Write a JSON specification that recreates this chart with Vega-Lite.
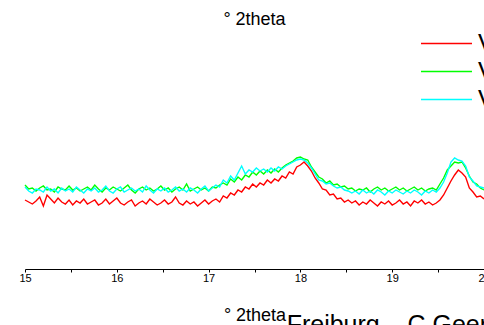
{
  "$schema": "https://vega.github.io/schema/vega-lite/v6.json",
  "autosize": {"type": "none"},
  "width": 459,
  "height": 239,
  "padding": {"left": 25, "top": 30, "right": 0, "bottom": 56},
  "background": "white",
  "config": {"view": {"stroke": null}, "font": "Liberation Sans"},
  "title": {"text": "° 2theta", "fontSize": 18, "fontWeight": "normal", "font": "Liberation Sans", "color": "black", "anchor": "middle", "offset": 1, "frame": "group"},
  "layer": [
    {
      "data": {"values": [
    {"x":15.00,"V1":69,"V2":84,"V3":82},{"x":15.04,"V1":67,"V2":80,"V3":78},{"x":15.08,"V1":65,"V2":81,"V3":76},{"x":15.12,"V1":68,"V2":78,"V3":80},{"x":15.16,"V1":72,"V2":81,"V3":79},
    {"x":15.20,"V1":63,"V2":83,"V3":77},{"x":15.24,"V1":74,"V2":79,"V3":82},{"x":15.28,"V1":70,"V2":80,"V3":78},{"x":15.32,"V1":66,"V2":77,"V3":80},{"x":15.36,"V1":71,"V2":82,"V3":76},
    {"x":15.40,"V1":67,"V2":80,"V3":81},{"x":15.44,"V1":65,"V2":79,"V3":78},{"x":15.48,"V1":69,"V2":83,"V3":80},{"x":15.52,"V1":64,"V2":79,"V3":77},{"x":15.56,"V1":68,"V2":81,"V3":82},
    {"x":15.60,"V1":66,"V2":78,"V3":79},{"x":15.64,"V1":70,"V2":80,"V3":76},{"x":15.68,"V1":65,"V2":82,"V3":80},{"x":15.72,"V1":67,"V2":79,"V3":78},{"x":15.76,"V1":69,"V2":84,"V3":81},
    {"x":15.80,"V1":64,"V2":80,"V3":77},{"x":15.84,"V1":66,"V2":77,"V3":79},{"x":15.88,"V1":70,"V2":81,"V3":83},{"x":15.92,"V1":65,"V2":79,"V3":78},{"x":15.96,"V1":68,"V2":82,"V3":76},
    {"x":16.00,"V1":71,"V2":80,"V3":80},{"x":16.04,"V1":66,"V2":78,"V3":82},{"x":16.08,"V1":64,"V2":81,"V3":77},{"x":16.12,"V1":67,"V2":84,"V3":79},{"x":16.16,"V1":69,"V2":79,"V3":81},
    {"x":16.20,"V1":63,"V2":76,"V3":78},{"x":16.24,"V1":66,"V2":80,"V3":80},{"x":16.28,"V1":68,"V2":82,"V3":77},{"x":16.32,"V1":65,"V2":79,"V3":83},{"x":16.36,"V1":70,"V2":81,"V3":79},
    {"x":16.40,"V1":67,"V2":78,"V3":76},{"x":16.44,"V1":64,"V2":80,"V3":80},{"x":16.48,"V1":66,"V2":83,"V3":78},{"x":16.52,"V1":69,"V2":79,"V3":81},{"x":16.56,"V1":65,"V2":81,"V3":77},
    {"x":16.60,"V1":67,"V2":77,"V3":79},{"x":16.64,"V1":72,"V2":80,"V3":82},{"x":16.68,"V1":66,"V2":82,"V3":78},{"x":16.72,"V1":64,"V2":79,"V3":80},{"x":16.76,"V1":68,"V2":85,"V3":77},
    {"x":16.80,"V1":65,"V2":78,"V3":81},{"x":16.84,"V1":67,"V2":80,"V3":79},{"x":16.88,"V1":63,"V2":82,"V3":76},{"x":16.92,"V1":66,"V2":79,"V3":80},{"x":16.96,"V1":69,"V2":81,"V3":83},
    {"x":17.00,"V1":65,"V2":78,"V3":78},{"x":17.04,"V1":68,"V2":82,"V3":81},{"x":17.08,"V1":70,"V2":81,"V3":84},{"x":17.12,"V1":67,"V2":84,"V3":82},{"x":17.16,"V1":73,"V2":86,"V3":89},
    {"x":17.20,"V1":71,"V2":84,"V3":86},{"x":17.24,"V1":76,"V2":90,"V3":93},{"x":17.28,"V1":74,"V2":87,"V3":89},{"x":17.32,"V1":79,"V2":92,"V3":96},{"x":17.36,"V1":77,"V2":89,"V3":103},
    {"x":17.40,"V1":82,"V2":94,"V3":95},{"x":17.44,"V1":80,"V2":92,"V3":99},{"x":17.48,"V1":85,"V2":97,"V3":97},{"x":17.52,"V1":82,"V2":94,"V3":101},{"x":17.56,"V1":86,"V2":98,"V3":98},
    {"x":17.60,"V1":84,"V2":95,"V3":100},{"x":17.64,"V1":89,"V2":99,"V3":97},{"x":17.68,"V1":86,"V2":96,"V3":101},{"x":17.72,"V1":90,"V2":100,"V3":98},{"x":17.76,"V1":88,"V2":97,"V3":102},
    {"x":17.80,"V1":93,"V2":101,"V3":100},{"x":17.84,"V1":91,"V2":104,"V3":103},{"x":17.88,"V1":97,"V2":106,"V3":105},{"x":17.92,"V1":95,"V2":108,"V3":107},{"x":17.96,"V1":102,"V2":111,"V3":109},
    {"x":18.00,"V1":104,"V2":112,"V3":110},{"x":18.04,"V1":107,"V2":110,"V3":109},{"x":18.08,"V1":103,"V2":109,"V3":106},{"x":18.12,"V1":98,"V2":102,"V3":101},{"x":18.16,"V1":91,"V2":97,"V3":95},
    {"x":18.20,"V1":86,"V2":92,"V3":89},{"x":18.24,"V1":80,"V2":90,"V3":88},{"x":18.28,"V1":79,"V2":86,"V3":85},{"x":18.32,"V1":74,"V2":88,"V3":86},{"x":18.36,"V1":75,"V2":84,"V3":83},
    {"x":18.40,"V1":70,"V2":85,"V3":81},{"x":18.44,"V1":71,"V2":82,"V3":82},{"x":18.48,"V1":67,"V2":83,"V3":79},{"x":18.52,"V1":69,"V2":80,"V3":78},{"x":18.56,"V1":66,"V2":81,"V3":76},
    {"x":18.60,"V1":68,"V2":78,"V3":78},{"x":18.64,"V1":64,"V2":80,"V3":75},{"x":18.68,"V1":67,"V2":79,"V3":79},{"x":18.72,"V1":65,"V2":81,"V3":76},{"x":18.76,"V1":69,"V2":77,"V3":78},
    {"x":18.80,"V1":66,"V2":80,"V3":75},{"x":18.84,"V1":63,"V2":82,"V3":79},{"x":18.88,"V1":67,"V2":79,"V3":77},{"x":18.92,"V1":65,"V2":81,"V3":74},{"x":18.96,"V1":68,"V2":78,"V3":78},
    {"x":19.00,"V1":64,"V2":80,"V3":76},{"x":19.04,"V1":66,"V2":82,"V3":79},{"x":19.08,"V1":69,"V2":79,"V3":77},{"x":19.12,"V1":65,"V2":81,"V3":75},{"x":19.16,"V1":67,"V2":78,"V3":78},
    {"x":19.20,"V1":63,"V2":80,"V3":76},{"x":19.24,"V1":68,"V2":82,"V3":79},{"x":19.28,"V1":66,"V2":79,"V3":77},{"x":19.32,"V1":69,"V2":81,"V3":74},{"x":19.36,"V1":65,"V2":78,"V3":78},
    {"x":19.40,"V1":67,"V2":80,"V3":76},{"x":19.44,"V1":64,"V2":81,"V3":79},{"x":19.48,"V1":66,"V2":79,"V3":77},{"x":19.52,"V1":69,"V2":85,"V3":81},{"x":19.56,"V1":74,"V2":91,"V3":87},
    {"x":19.60,"V1":81,"V2":99,"V3":96},{"x":19.64,"V1":88,"V2":103,"V3":107},{"x":19.68,"V1":94,"V2":107,"V3":111},{"x":19.72,"V1":99,"V2":106,"V3":109},{"x":19.76,"V1":96,"V2":107,"V3":108},
    {"x":19.80,"V1":92,"V2":101,"V3":103},{"x":19.84,"V1":81,"V2":93,"V3":92},{"x":19.88,"V1":77,"V2":87,"V3":88},{"x":19.92,"V1":72,"V2":85,"V3":83},{"x":19.96,"V1":73,"V2":81,"V3":82},
    {"x":20.00,"V1":70,"V2":79,"V3":81}
      ]},
      "transform": [{"fold": ["V1", "V2", "V3"], "as": ["series", "value"]}],
      "mark": {"type": "line", "strokeWidth": 1.4, "interpolate": "linear"},
      "encoding": {
        "x": {"field": "x", "type": "quantitative",
          "scale": {"domain": [15, 20], "nice": false, "zero": false},
          "axis": {"values": [15, 15.5, 16, 16.5, 17, 17.5, 18, 18.5, 19, 19.5, 20],
            "labelExpr": "datum.value % 1 === 0 ? format(datum.value, 'd') : ''",
            "labelFlush": false, "labelOverlap": false, "grid": false,
            "tickSize": 3, "tickColor": "black", "domainColor": "black", "domainWidth": 1,
            "labelFontSize": 11, "labelFont": "Liberation Sans", "labelColor": "black", "labelPadding": 0,
            "title": "° 2theta", "titleFontSize": 18, "titleFont": "Liberation Sans", "titleFontWeight": "normal",
            "titleColor": "black", "titlePadding": 23}},
        "y": {"field": "value", "type": "quantitative",
          "scale": {"domain": [0, 239], "nice": false, "zero": false}, "axis": null},
        "color": {"field": "series", "type": "nominal",
          "scale": {"domain": ["V1", "V2", "V3"], "range": ["#ff0000", "#00ff00", "#00ffff"]},
          "legend": {"orient": "none", "legendX": 409, "legendY": 1, "title": null,
            "symbolType": "M-5,0H5", "symbolSize": 104, "symbolStrokeWidth": 1.3, "symbolFillColor": "transparent",
            "labelFontSize": 25, "labelFont": "Liberation Sans", "labelColor": "black", "labelOffset": 19, "rowPadding": 2}}
      }
    },
    {
      "data": {"values": [{}]},
      "mark": {"type": "text", "align": "left", "baseline": "alphabetic", "fontSize": 25, "font": "Liberation Sans", "color": "black", "text": "Freiburg – C.Geeraert"},
      "encoding": {"x": {"datum": 17.85}, "y": {"datum": -64}}
    }
  ]
}
